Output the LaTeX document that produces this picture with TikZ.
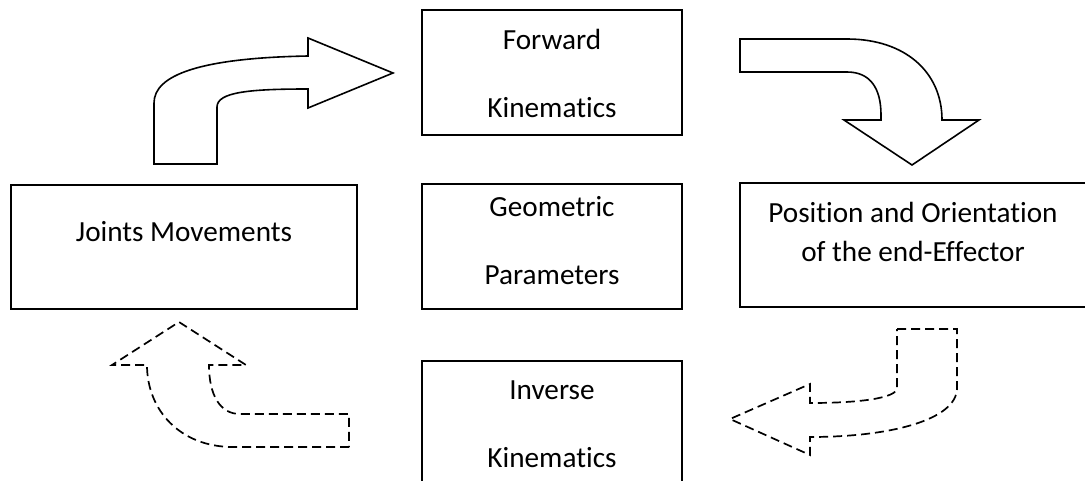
\documentclass[tikz,border=0pt]{standalone}
\usepackage{fontspec}
\setmainfont{Carlito}[Ligatures=NoCommon]
\usetikzlibrary{positioning}
\tikzset{
  blk/.style={draw,rectangle,line width=1pt,inner sep=0pt,outer sep=0pt,align=center,text depth=0pt,font=\fontsize{14.6pt}{34pt}\selectfont},
  midblk/.style={blk,minimum width=130pt,minimum height=62.5pt},
  sideblk/.style={blk,minimum width=173pt,minimum height=62pt},
  fatarr/.style={draw,line width=0.8pt,line join=miter},
  dasharr/.style={draw,line width=0.85pt,dash pattern=on 4.5pt off 2.5pt}
}
\begin{document}
\begin{tikzpicture}[x=0.5pt,y=-0.5pt]
  \useasboundingbox (0,0) rectangle (1085,481);
  \clip (0,0) rectangle (1085,481);

  \node[midblk,text height=45.5pt] (fwd) at (552,72.5) {Forward\\Kinematics};
  \node[midblk,text height=38pt,below=24.5pt of fwd] (geo) {Geometric\\Parameters};
  \node[midblk,text height=43.5pt,below=26pt of geo] (inv) {Inverse\\Kinematics};
  \node[sideblk,text height=10pt,text depth=15pt,left=32.5pt of geo] (jnt) {Joints Movements};
  \node[sideblk,text height=17pt,right=29pt of geo,yshift=1pt,
        font=\fontsize{14.6pt}{19.5pt}\selectfont] (pos) {Position and Orientation\\of the end-Effector};

  % solid block arrows
  \path[fatarr] (154,164) -- (154,103) .. controls (154,75) and (200,58) .. (308,56)
    -- (308,38) -- (393,73) -- (308,108) -- (308,89)
    .. controls (250,89) and (217,92) .. (217,107) -- (217,164) -- cycle;
  \path[fatarr] (740,39) -- (847,39) .. controls (905,39) and (942,72) .. (942,120)
    -- (979,120) -- (912,165) -- (844,120) -- (881,120) -- (881,115)
    .. controls (881,88) and (870,72) .. (847,72) -- (740,72) -- cycle;

  % dashed block arrows
  \path[dasharr] (897,329) -- (957,329) -- (957,388) .. controls (957,420) and (890,437) .. (810,437)
    -- (810,455) -- (730,419) -- (810,384) -- (810,403)
    .. controls (860,403) and (897,398) .. (897,388) -- cycle;
  \path[dasharr] (349,447) -- (233,447) .. controls (180,447) and (147,410) .. (147,365)
    -- (112,365) -- (179,322) -- (246,365) -- (209,365)
    .. controls (209,395) and (220,414) .. (240,414) -- (349,414) -- cycle;
\end{tikzpicture}
\end{document}
